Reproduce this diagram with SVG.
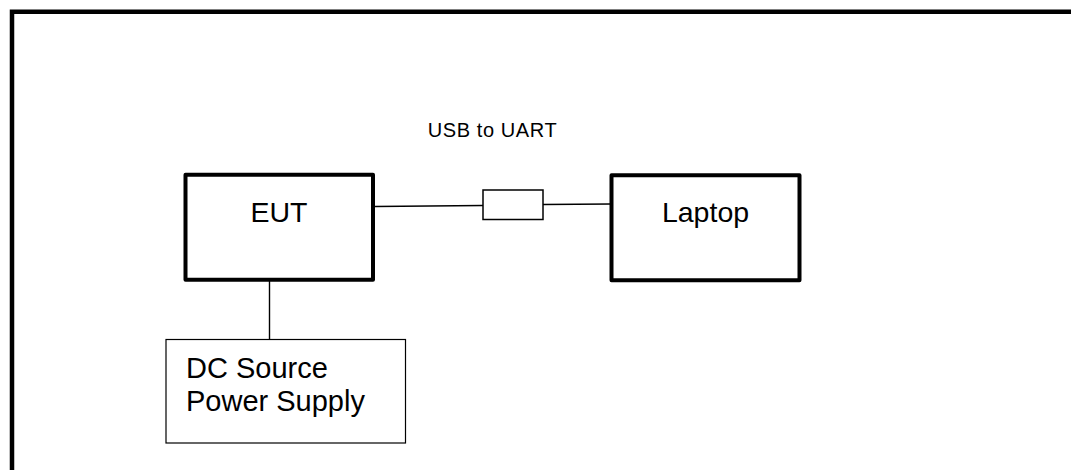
<svg xmlns="http://www.w3.org/2000/svg" width="1071" height="470" viewBox="0 0 1071 470">
<style>
.frame{fill:none;stroke:#000;stroke-width:4.5}
.thick{fill:#fff;stroke:#000;stroke-width:4;stroke-linejoin:round}
.thin{fill:#fff;stroke:#000;stroke-width:1.2}
.conn{fill:none;stroke:#000;stroke-width:1.4}
text{font-family:"Liberation Sans",Arial,sans-serif;fill:#000}
.big{font-size:28.5px}
.dc{font-size:29px}
</style>
<rect width="1071" height="470" fill="#fff"/>
<path class="frame" d="M12 472 V11.8 H1073"/>
<g id="connectors">
<line class="conn" x1="375" y1="206.5" x2="483" y2="205.5"/>
<line class="conn" x1="543" y1="204.5" x2="611" y2="204"/>
<line class="conn" x1="269.5" y1="281" x2="269.5" y2="339.5"/>
</g>
<g id="adapter">
<rect x="483" y="190" width="60" height="29.5" fill="#fff" stroke="#000" stroke-width="1.5"/>
<text x="492.5" y="136.7" font-size="20" letter-spacing="0.6" text-anchor="middle">USB to UART</text>
</g>
<g id="eut">
<rect class="thick" x="185.5" y="174.7" width="187.5" height="105"/>
<text class="big" x="279" y="221.7" text-anchor="middle">EUT</text>
</g>
<g id="laptop">
<rect class="thick" x="611.5" y="175.3" width="188" height="105"/>
<text class="big" x="705.5" y="221.7" text-anchor="middle">Laptop</text>
</g>
<g id="dc">
<rect class="thin" x="166" y="339.5" width="239.5" height="103.5"/>
<text class="dc" x="186" y="377.7">DC Source</text>
<text class="dc" x="186" y="411">Power Supply</text>
</g>
</svg>
